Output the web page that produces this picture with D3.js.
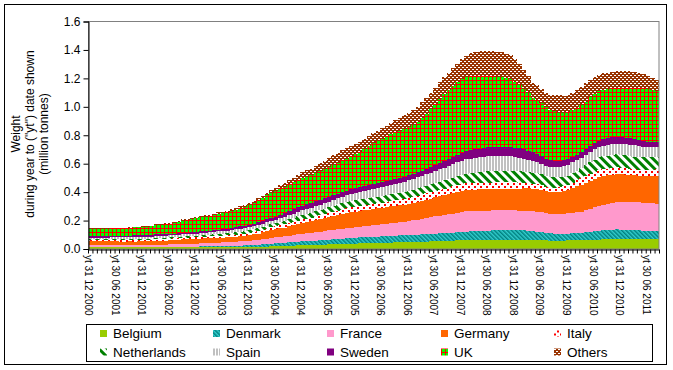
<!DOCTYPE html>
<html>
<head lang="en">
    <meta charset="UTF-8">
    <script type="text/javascript" src="https://d3js.org/d3.v7.min.js"></script>
    <style>
        body { margin: 0; background: #fff; }
        text { font-family: "Liberation Sans", Arial, sans-serif; fill: #000; }
    </style>
</head>
<body>
<svg id="chart" width="673" height="370"></svg>
<script>
    // weights per month, thousand tonnes, Dec 2000 .. Aug 2011 (129 months)
    var belgium = [
        16,16,16,16,16,16,15,15,15,15,15,15,
        15,14,14,14,14,14,14,14,13,13,13,13,
        13,13,13,13,13,13,13,13,13,13,14,14,
        15,15,16,17,17,18,19,20,21,22,23,25,
        26,27,28,29,30,31,32,33,34,35,36,37,
        38,39,40,40,41,42,43,44,45,46,46,47,
        48,49,50,51,52,53,54,55,56,57,58,60,
        61,62,63,63,64,64,64,64,64,64,64,64,
        63,63,63,63,62,62,61,60,59,58,58,59,
        60,61,62,63,64,65,65,66,67,67,68,68,
        68,68,68,68,68,68,68,68,68];
    var denmark = [
        0,0,0,0,0,1,1,1,1,2,2,2,
        2,2,2,3,3,3,3,3,3,4,4,4,
        4,5,5,6,6,7,7,8,9,10,10,11,
        12,13,14,16,18,20,22,24,24,25,25,26,
        27,27,28,29,31,32,34,35,37,38,39,40,
        41,42,43,44,45,45,46,47,48,48,49,49,
        50,50,51,52,53,54,55,56,57,57,58,58,
        59,60,61,62,63,64,66,67,68,69,70,70,
        70,69,68,66,63,60,57,54,52,51,50,49,
        48,49,50,52,55,58,61,63,65,67,69,70,
        69,68,67,66,64,62,60,59,58];
    var france = [
        10,10,10,10,10,10,10,10,10,10,10,11,
        11,12,12,13,14,14,15,16,17,18,18,19,
        20,21,22,23,24,25,26,27,28,28,29,30,
        31,33,34,36,38,40,41,42,44,46,49,51,
        54,56,59,60,62,63,65,66,68,69,70,72,
        73,75,76,78,80,82,84,86,88,91,93,96,
        99,102,105,109,112,116,120,123,126,130,133,136,
        139,142,142,142,141,141,140,140,139,139,138,138,
        138,138,139,140,140,140,139,138,138,139,140,141,
        145,145,146,147,152,160,166,172,177,183,189,194,
        196,197,197,197,196,195,195,194,194];
    var germany = [
        27,27,27,27,27,27,27,26,26,26,25,25,
        25,25,26,27,28,28,29,30,31,32,33,33,
        33,34,34,34,34,34,34,34,35,35,36,38,
        40,42,45,48,51,54,56,59,62,66,70,73,
        76,78,80,83,86,89,92,95,98,101,105,108,
        110,112,114,115,116,117,117,118,118,119,119,120,
        120,120,122,125,128,131,134,137,140,143,146,149,
        151,152,152,151,151,150,150,150,151,152,152,153,
        154,155,156,157,158,159,157,153,152,153,155,158,
        162,172,182,190,195,198,202,205,203,200,197,194,
        191,190,189,188,188,190,190,191,192];
    var italy = [
        10,10,10,10,10,10,10,10,10,10,11,11,
        11,11,11,11,11,11,11,11,11,12,12,12,
        12,12,12,12,12,13,13,13,13,14,14,15,
        15,16,17,18,19,20,21,23,23,24,24,24,
        25,25,25,26,27,28,29,30,31,33,35,35,
        35,35,35,35,35,35,36,37,38,39,40,41,
        43,45,47,47,46,46,45,45,45,45,45,46,
        46,46,46,46,46,46,46,46,46,45,44,44,
        43,42,41,39,37,35,33,31,30,30,32,34,
        38,40,42,45,47,49,50,50,50,49,49,48,
        46,44,42,41,42,44,45,46,48];
    var netherlands = [
        7,7,7,7,7,8,8,8,8,8,9,9,
        9,9,9,10,10,10,10,10,11,11,11,11,
        12,12,13,13,14,15,16,17,18,19,20,20,
        20,21,21,21,22,22,22,22,24,26,28,30,
        32,34,35,37,39,41,43,45,46,47,47,47,
        47,47,47,47,47,47,47,47,48,48,48,48,
        49,50,51,52,53,54,56,57,58,60,62,64,
        66,68,70,72,75,78,80,82,82,82,82,82,
        80,79,77,74,72,75,78,80,78,74,70,66,
        62,66,70,75,78,80,84,88,90,91,92,92,
        92,91,90,90,89,88,88,88,88];
    var spain = [
        10,10,10,10,10,11,11,11,12,12,13,13,
        13,13,13,14,14,14,14,14,15,15,15,15,
        15,16,16,16,17,17,18,18,19,19,20,20,
        21,21,22,22,23,24,24,25,26,28,30,32,
        33,34,35,36,37,38,39,40,42,44,45,47,
        49,51,54,56,58,60,62,64,66,68,70,72,
        74,76,78,80,82,84,86,88,90,92,94,96,
        98,100,102,103,104,105,105,105,105,104,103,102,
        99,96,92,88,84,80,75,70,70,71,72,74,
        76,76,72,70,70,70,72,74,75,74,73,72,
        74,78,80,78,75,72,70,68,66];
    var sweden = [
        8,8,8,8,8,8,9,9,9,9,10,10,
        10,10,10,10,10,10,10,10,9,9,9,10,
        10,11,11,12,12,13,13,14,14,15,16,16,
        17,18,19,20,21,22,23,25,26,28,30,31,
        32,33,35,35,35,35,34,34,33,33,33,33,
        33,33,33,33,33,33,33,33,33,33,33,33,
        34,34,35,36,37,38,40,42,44,47,50,53,
        56,59,60,61,62,63,63,64,64,65,65,65,
        65,65,64,64,63,60,55,50,47,45,44,43,
        42,41,40,40,42,45,45,45,46,48,50,51,
        50,48,46,45,43,41,40,38,36];
    var uk = [
        56,56,56,56,56,56,57,57,57,57,58,59,
        60,62,64,66,68,70,73,76,80,86,90,93,
        96,98,100,103,106,109,112,115,118,122,128,134,
        140,147,154,161,168,175,181,187,189,191,192,193,
        194,195,195,197,200,205,210,215,219,223,226,232,
        240,250,262,275,288,300,308,316,323,330,335,340,
        342,344,355,370,388,408,428,450,472,490,503,512,
        518,521,520,516,512,507,501,496,492,488,482,475,
        460,443,425,403,381,375,370,364,355,347,339,335,
        332,330,329,328,334,345,346,347,347,345,343,341,
        343,347,351,358,365,370,368,364,360];
    var others = [
        3,3,3,3,3,3,3,3,3,3,3,3,
        4,4,4,5,5,6,6,7,7,8,8,9,
        9,9,10,10,10,11,11,11,12,12,13,13,
        14,14,15,16,17,18,19,20,22,26,30,35,
        40,44,46,50,55,60,64,68,70,71,71,71,
        71,70,70,70,70,70,72,76,80,85,90,95,
        100,105,108,110,112,114,116,118,119,120,124,130,
        140,150,160,168,174,178,180,180,178,176,174,172,
        165,150,135,120,110,104,100,100,105,112,120,118,
        115,120,125,130,128,120,117,115,115,117,118,120,
        120,120,120,115,108,100,95,88,80];

    var countries = ["Belgium", "Denmark", "France", "Germany", "Italy", "Netherlands", "Spain", "Sweden", "UK", "Others"];
    var seriesData = [belgium, denmark, france, germany, italy, netherlands, spain, sweden, uk, others];

    var tickLabels = ["yt 31 12 2000", "yt 30 06 2001", "yt 31 12 2001", "yt 30 06 2002", "yt 31 12 2002",
        "yt 30 06 2003", "yt 31 12 2003", "yt 30 06 2004", "yt 31 12 2004", "yt 30 06 2005",
        "yt 31 12 2005", "yt 30 06 2006", "yt 31 12 2006", "yt 30 06 2007", "yt 31 12 2007",
        "yt 30 06 2008", "yt 31 12 2008", "yt 30 06 2009", "yt 31 12 2009", "yt 30 06 2010",
        "yt 31 12 2010", "yt 30 06 2011"];
    var yTicks = [0, 0.2, 0.4, 0.6, 0.8, 1.0, 1.2, 1.4, 1.6];

    var nMonths = belgium.length;
    var months = d3.range(nMonths);
    var labelIndex = tickLabels.map(function(d, i){ return i * 6; });

    var svg = d3.select("#chart");
    var plotLeft = 88, plotRight = 659, plotTop = 21.5, plotBottom = 249;

    var x = d3.scaleLinear().domain([0, nMonths]).range([plotLeft, plotRight]);
    var y = d3.scaleLinear().domain([0, 1.6]).range([plotBottom, plotTop]);

    // fill patterns
    var defs = svg.append("defs");
    function pattern(id, w, h, bg, rot){
        var p = defs.append("pattern")
            .attr("id", id)
            .attr("patternUnits", "userSpaceOnUse")
            .attr("width", w).attr("height", h);
        if (rot) p.attr("patternTransform", "rotate(" + rot + ")");
        p.append("rect").attr("width", w).attr("height", h).attr("fill", bg);
        return p;
    }
    pattern("pDen", 3, 3, "#33cccc", -45)
        .append("rect").attr("width", 1.5).attr("height", 3).attr("fill", "#008080");
    var pIt = pattern("pIta", 6, 6, "#ffffff");
    pIt.append("rect").attr("x", 0).attr("y", 0).attr("width", 2).attr("height", 2).attr("fill", "#ff0000");
    pIt.append("rect").attr("x", 3).attr("y", 3).attr("width", 2).attr("height", 2).attr("fill", "#ff0000");
    pattern("pNed", 6, 6, "#ffffff", -45)
        .append("rect").attr("width", 3).attr("height", 6).attr("fill", "#008000");
    pattern("pSpa", 3, 3, "#ffffff")
        .append("rect").attr("width", 2).attr("height", 3).attr("fill", "#c0c0c0");
    pattern("pUK", 4, 4, "#ff0000")
        .append("rect").attr("x", 1).attr("y", 1).attr("width", 3).attr("height", 3).attr("fill", "#00ff00");
    var pOt = pattern("pOth", 4, 4, "#993300");
    pOt.append("rect").attr("x", 0).attr("y", 1).attr("width", 2).attr("height", 1).attr("fill", "#ffffff");
    pOt.append("rect").attr("x", 2).attr("y", 3).attr("width", 2).attr("height", 1).attr("fill", "#ffffff");

    var fills = ["#99cc00", "url(#pDen)", "#ff99cc", "#ff6600", "url(#pIta)",
                 "url(#pNed)", "url(#pSpa)", "#800080", "url(#pUK)", "url(#pOth)"];

    // outer frame
    svg.append("rect")
        .attr("x", 4.5).attr("y", 4.5).attr("width", 662).attr("height", 360)
        .attr("fill", "none").attr("stroke", "#000").attr("stroke-width", 1);

    // stacked columns, no gap
    var table = months.map(function(m){
        var row = {month: m};
        countries.forEach(function(c, k){ row[c] = seriesData[k][m] / 1000; });
        return row;
    });
    var stacked = d3.stack().keys(countries)(table);

    svg.append("g").selectAll("g")
        .data(stacked)
        .join("g")
            .attr("fill", function(d, k){ return fills[k]; })
        .selectAll("rect")
        .data(function(d){ return d; })
        .join("rect")
            .attr("shape-rendering", "crispEdges")
            .attr("x", function(d){ return x(d.data.month); })
            .attr("width", function(d){ return x(d.data.month + 1) - x(d.data.month); })
            .attr("y", function(d){ return y(d[1]); })
            .attr("height", function(d){ return y(d[0]) - y(d[1]); });

    // plot area border
    svg.append("rect")
        .attr("x", plotLeft + 0.5).attr("y", plotTop).attr("width", plotRight - plotLeft - 0.5).attr("height", plotBottom - plotTop)
        .attr("fill", "none").attr("stroke", "#808080").attr("stroke-width", 1);

    // y axis
    var yAxis = svg.append("g")
        .attr("transform", "translate(" + (plotLeft + 0.5) + ",0)")
        .call(d3.axisLeft(y).tickValues(yTicks).tickSize(5).tickPadding(3).tickFormat(d3.format(".1f")));
    yAxis.selectAll("text").style("font-size", "12px").attr("font-family", null);
    yAxis.attr("font-family", null);
    yAxis.selectAll("path, line").attr("stroke", "#000");

    // x axis: minor tick on each month
    var xAxis = svg.append("g")
        .attr("transform", "translate(0," + (plotBottom + 0.5) + ")")
        .call(d3.axisBottom(x).tickValues(d3.range(nMonths + 1)).tickSize(4).tickSizeOuter(0).tickFormat(""));
    xAxis.selectAll("path, line").attr("stroke", "#000");

    svg.append("g").selectAll("text")
        .data(labelIndex)
        .join("text")
            .attr("transform", function(d){ return "translate(" + (x(d) + 0.5) + "," + (plotBottom + 6) + ") rotate(90)"; })
            .attr("dominant-baseline", "central")
            .style("font-size", "10px")
            .text(function(d, i){ return tickLabels[i]; });

    // y axis title
    var titleLines = [["Weight", 16], ["during year to (\"yt\") date shown", 30], ["(million tonnes)", 43.5]];
    svg.append("g").selectAll("text")
        .data(titleLines)
        .join("text")
            .attr("transform", function(d){ return "translate(" + d[1] + ",134) rotate(-90)"; })
            .attr("text-anchor", "middle")
            .attr("dominant-baseline", "central")
            .style("font-size", "12px")
            .text(function(d){ return d[0]; });

    // legend
    svg.append("rect")
        .attr("x", 86.5).attr("y", 324.5).attr("width", 566).attr("height", 37)
        .attr("fill", "none").attr("stroke", "#000").attr("stroke-width", 1);
    var legX = [100, 213, 327, 441, 554];
    var legY = [333.5, 352];
    var items = svg.append("g").selectAll("g")
        .data(countries)
        .join("g")
            .attr("transform", function(d, k){ return "translate(" + legX[k % 5] + "," + legY[Math.floor(k / 5)] + ")"; });
    items.append("rect")
        .attr("x", 0).attr("y", -3.5).attr("width", 7).attr("height", 7)
        .attr("fill", function(d, k){ return fills[k]; });
    items.append("text")
        .attr("x", 13).attr("y", 0)
        .attr("dominant-baseline", "central")
        .style("font-size", "13.5px")
        .text(function(d){ return d; });
</script>
</body>
</html>
